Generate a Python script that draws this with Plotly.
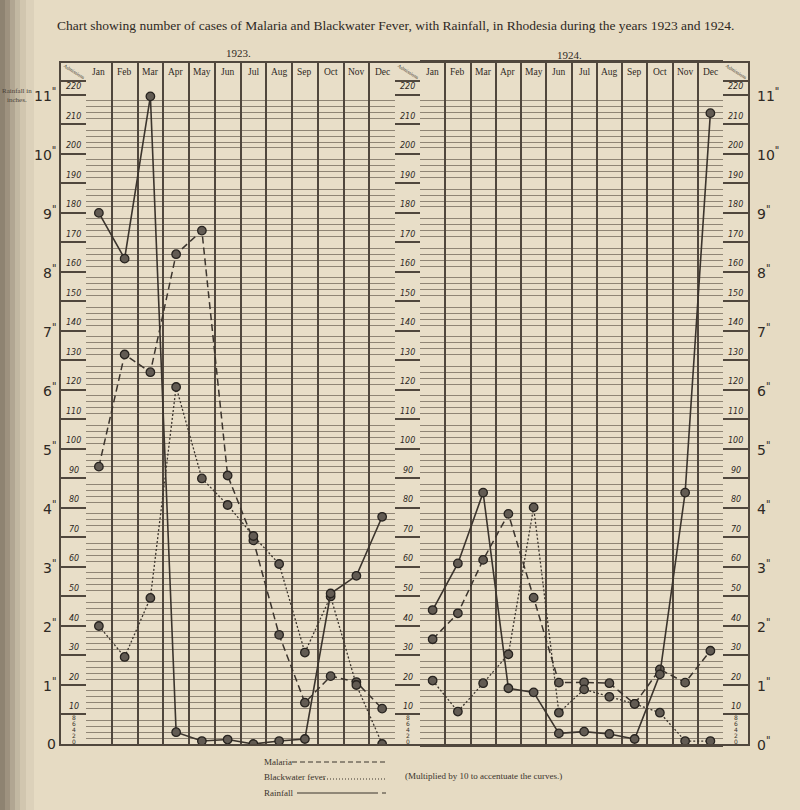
import plotly.graph_objects as go

# ---------------- data ----------------
months = ["Jan", "Feb", "Mar", "Apr", "May", "Jun", "Jul", "Aug", "Sep", "Oct", "Nov", "Dec"]
month_pos = list(range(1, 13))

malaria_1923 = [94, 132, 126, 166, 174, 91, 69, 37, 14, 23, 21, 12]
blackwater_1923 = [40, 29.5, 49.5, 121, 90, 81, 70.5, 61, 31, 50, 20, 0]
rainfall_1923 = [180, 164.5, 219.5, 4, 1, 1.5, 0, 1, 1.7, 51, 57, 77]

malaria_1924 = [35.5, 44.3, 62.4, 78, 49.6, 20.8, 20.9, 20.6, 13.6, 25.3, 20.8, 31.6]
blackwater_1924 = [21.5, 11, 20.6, 30.4, 80.2, 10.6, 18.5, 16, 13.6, 10.6, 1, 1]
rainfall_1924 = [45.4, 61.2, 85.2, 18.9, 17.5, 3.6, 4.2, 3.4, 1.7, 23.6, 85.2, 213.8]

admission_ticks = list(range(0, 221, 10))
inch_ticks = list(range(0, 12))          # rainfall inches, 1 inch = 20 on the admissions scale
small_ticks = [8, 6, 4, 2, 0]

# ---------------- geometry / style ----------------
W, H = 800, 810
PAPER = "#e6dbc3"
INK = "#3b342d"
GRID = "#50473d"
MINOR = "#8f8575"

def px(x):
    return x / W

def py(y):
    return 1 - y / H

Y_TOP = 230.8       # header rows above the 220 line
Y_HEAD = 224.7      # bottom of month-name row
ydom = [py(744), py(63)]
dom_full = [px(61), px(748)]
dom_23 = [px(86), px(395)]
dom_24 = [px(420), px(723)]

fig = go.Figure()

mk = dict(size=8.5, color="#625b53", line=dict(color="#27231f", width=1.3))

def add_year(xa, ya, mal, bw, rain):
    fig.add_trace(go.Scatter(x=month_pos, y=mal, xaxis=xa, yaxis=ya, mode="lines+markers",
                             line=dict(color=INK, width=1.5, dash="7px,4px"), marker=mk,
                             name="Malaria", showlegend=False))
    fig.add_trace(go.Scatter(x=month_pos, y=bw, xaxis=xa, yaxis=ya, mode="lines+markers",
                             line=dict(color=INK, width=1.3, dash="2px,2px"), marker=mk,
                             name="Blackwater fever", showlegend=False))
    fig.add_trace(go.Scatter(x=month_pos, y=rain, xaxis=xa, yaxis=ya, mode="lines+markers",
                             line=dict(color=INK, width=1.6), marker=mk,
                             name="Rainfall", showlegend=False))

# full-width frame subplot (major lines only) — first so it sits underneath
fig.add_trace(go.Scatter(x=[0], y=[0], xaxis="x", yaxis="y", mode="markers",
                         marker=dict(opacity=0), showlegend=False, hoverinfo="skip"))
add_year("x2", "y2", malaria_1923, blackwater_1923, rainfall_1923)
add_year("x3", "y3", malaria_1924, blackwater_1924, rainfall_1924)

minor_vals = [v for v in range(0, 221, 2) if v % 10]
panel_x = dict(range=[0.5, 12.5], tickvals=[i + 0.5 for i in range(0, 13)], showticklabels=False,
               showgrid=True, gridcolor=GRID, gridwidth=1.5, zeroline=False, ticks="",
               showline=True, linecolor=GRID, linewidth=1.6, mirror=True)
panel_y = dict(range=[0, Y_TOP], tickvals=admission_ticks + [Y_HEAD], showticklabels=False,
               showgrid=False, zeroline=False, ticks="",
               minor=dict(tickvals=minor_vals, showgrid=True, gridcolor=MINOR, gridwidth=0.8, ticks=""))

fig.update_layout(
    width=W, height=H, margin=dict(l=0, r=0, t=0, b=0),
    paper_bgcolor=PAPER, plot_bgcolor="#e8dec8",
    showlegend=False,
    xaxis=dict(domain=dom_full, range=[0, 1], showgrid=False, showticklabels=False, zeroline=False,
               showline=True, linecolor=GRID, linewidth=2, mirror=True, ticks=""),
    yaxis=dict(domain=ydom, range=[0, Y_TOP], tickvals=admission_ticks + [Y_HEAD], showticklabels=False,
               showgrid=True, gridcolor=GRID, gridwidth=1.5, zeroline=False, ticks="",
               showline=True, linecolor=GRID, linewidth=2, mirror=True),
    xaxis2=dict(domain=dom_23, anchor="y2", **panel_x),
    yaxis2=dict(domain=ydom, anchor="x2", **panel_y),
    xaxis3=dict(domain=dom_24, anchor="y3", **panel_x),
    yaxis3=dict(domain=ydom, anchor="x3", **panel_y),
)
fig.update_layout(xaxis3_linewidth=2.6)

ann = []
SERIF = "Liberation Serif"

def note(x, y, text, size, xref="paper", yref="paper", xanchor="center", yanchor="middle",
         family=SERIF, color="#2e2924", **kw):
    ann.append(dict(x=x, y=y, xref=xref, yref=yref, showarrow=False, text=text,
                    xanchor=xanchor, yanchor=yanchor,
                    font=dict(family=family, size=size, color=color), **kw))

# title and year headings
note(px(395), py(25), "Chart showing number of cases of Malaria and Blackwater Fever, with Rainfall, in Rhodesia during the years 1923 and 1924.", 13.5)
note(px(238), py(53), "1923.", 11)
note(px(569), py(55), "1924.", 11)
note(px(17), py(96), "Rainfall in<br>inches.", 7, color="#4a4138")

# month headers
for xa, ya in (("x2", "y2"), ("x3", "y3")):
    for i, m in enumerate(months):
        note(month_pos[i], (Y_TOP + Y_HEAD) / 2, m, 9.5, xref=xa, yref=ya)

# label columns (admissions scale)
label_cols = [(61, 86), (395, 420), (723, 748)]
for (a, b) in label_cols:
    cx = px((a + b) / 2)
    note(cx, (Y_TOP + Y_HEAD) / 2, "Admissions", 5, yref="y", textangle=32, color="#3a332c")
    for v in admission_ticks[1:]:
        note(cx, v + 0.5, f"<i>{v}</i>", 8, yref="y", yanchor="bottom", family="DejaVu Sans")
    for v in small_ticks:
        note(cx, v + 1, str(v), 6, yref="y", family="DejaVu Sans", color="#3a332c")

# rainfall inch labels
for n in inch_ticks:
    lbl = f'{n}<sup>"</sup>' if n else "0"
    note(px(58), n * 20, lbl, 14, yref="y", xanchor="right", family="DejaVu Sans")
    note(px(755), n * 20, f'{n}<sup>"</sup>', 14, yref="y", xanchor="left", family="DejaVu Sans")

# legend
note(px(262), py(762), "Malaria", 9, xanchor="left", color="#3a332c")
note(px(262), py(777), "Blackwater fever", 9, xanchor="left", color="#3a332c")
note(px(262), py(793), "Rainfall", 9, xanchor="left", color="#3a332c")
note(px(403), py(776), "(Multiplied by 10 to accentuate the curves.)", 9, xanchor="left", color="#3a332c")

shapes = []
shapes.append(dict(type="line", xref="paper", yref="paper", x0=px(292), x1=px(385), y0=py(762), y1=py(762),
                   line=dict(color=INK, width=1, dash="5px,3px")))
shapes.append(dict(type="line", xref="paper", yref="paper", x0=px(324), x1=px(386), y0=py(779), y1=py(779),
                   line=dict(color=INK, width=1, dash="1px,2px")))
shapes.append(dict(type="line", xref="paper", yref="paper", x0=px(297), x1=px(378), y0=py(793), y1=py(793),
                   line=dict(color=INK, width=1)))
shapes.append(dict(type="line", xref="paper", yref="paper", x0=px(382), x1=px(386), y0=py(793), y1=py(793),
                   line=dict(color=INK, width=1)))

# binding shadow on the left edge
shadow = [(0, 5, 0.55), (5, 10, 0.45), (10, 15, 0.33), (15, 20, 0.22), (20, 26, 0.13), (26, 34, 0.06)]
for a, b, al in shadow:
    shapes.append(dict(type="rect", xref="paper", yref="paper", x0=px(a), x1=px(b), y0=0, y1=1,
                       line=dict(width=0), fillcolor=f"rgba(70,58,45,{al})", layer="below"))

fig.update_layout(annotations=ann, shapes=shapes)
fig.write_html("out.html", config={"displayModeBar": False},
               post_script="document.body.style.margin='0';document.body.style.background='#e6dbc3';")
